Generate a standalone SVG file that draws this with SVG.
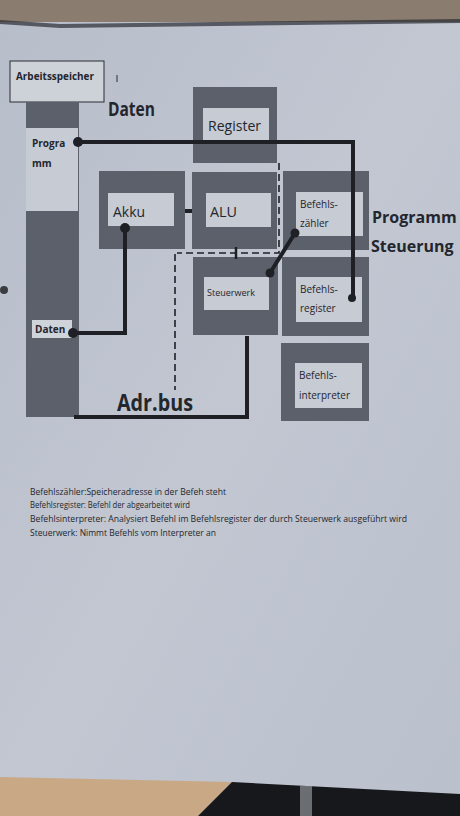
<svg xmlns="http://www.w3.org/2000/svg" width="460" height="816" viewBox="0 0 460 816">
<defs>
<linearGradient id="page" x1="0" y1="0" x2="1" y2="1">
<stop offset="0" stop-color="#b7bdc9"/>
<stop offset="0.5" stop-color="#c2c7d2"/>
<stop offset="1" stop-color="#bac0cc"/>
</linearGradient>
<style>
.outer{fill:#5b606b}
.inner{fill:#c7cbd3}
.t{font-family:"Open Sans","Liberation Sans",sans-serif;fill:#23262d}
.b{font-weight:bold}
.wire{stroke:#1e2026;stroke-width:4;fill:none;stroke-linejoin:miter}
.dash{stroke:#1e2026;stroke-width:1.6;fill:none;stroke-dasharray:7 4}
.dot{fill:#1e2026}
</style>
</defs>
<!-- photo background -->
<rect x="0" y="0" width="460" height="816" fill="url(#page)"/>
<rect x="0" y="0" width="460" height="22" fill="#8a7d6f"/>
<path d="M0,20 L60,24 L460,19 L460,23 L60,28 L0,24 Z" fill="#2b2c33" opacity="0.7"/>
<path d="M0,777 L232,782 L198,816 L0,816 Z" fill="#c9a985"/>
<path d="M232,782 L460,794 L460,816 L198,816 Z" fill="#17181b"/>
<path d="M300,786 L312,786 L312,816 L300,816 Z" fill="#8f9297" opacity="0.7"/>
<circle cx="4" cy="290" r="4" fill="#3a3c40"/>

<!-- Arbeitsspeicher -->
<g id="arbeitsspeicher">
<rect x="10" y="61" width="94" height="41" fill="#cdd1d8" stroke="#2a2c31" stroke-width="1"/>
<text class="t b" x="16" y="80" font-size="11" textLength="78" lengthAdjust="spacingAndGlyphs">Arbeitsspeicher</text>
<line x1="117" y1="75" x2="117" y2="82" stroke="#2a2c31" stroke-width="1"/>
</g>
<g id="speicher">
<rect class="outer" x="26" y="102" width="53" height="315"/>
<rect class="inner" x="26" y="128" width="52" height="83"/>
<text class="t b" x="32" y="147" font-size="10">Progra</text>
<text class="t b" x="32" y="167" font-size="10">mm</text>
<rect x="32" y="320" width="40" height="18" fill="#cfd3da"/>
<text class="t b" x="35" y="333" font-size="10">Daten</text>
</g>
<text class="t b" x="108" y="116" font-size="19" textLength="47" lengthAdjust="spacingAndGlyphs">Daten</text>

<g id="register">
<rect class="outer" x="193" y="87" width="84" height="76"/>
<rect class="inner" x="203" y="108" width="66" height="32"/>
<text class="t" x="208" y="131" font-size="15" textLength="53" lengthAdjust="spacingAndGlyphs">Register</text>
</g>
<g id="akku">
<rect class="outer" x="99" y="171" width="86" height="78"/>
<rect class="inner" x="108" y="193" width="66" height="33"/>
<text class="t" x="113" y="217" font-size="15" textLength="32" lengthAdjust="spacingAndGlyphs">Akku</text>
</g>
<g id="alu">
<rect class="outer" x="192" y="172" width="85" height="77"/>
<rect class="inner" x="206" y="193" width="65" height="34"/>
<text class="t" x="210" y="217" font-size="15" textLength="27" lengthAdjust="spacingAndGlyphs">ALU</text>
</g>
<g id="befehlszaehler">
<rect class="outer" x="283" y="171" width="86" height="79"/>
<rect class="inner" x="296" y="192" width="67" height="44"/>
<text class="t" x="300" y="208" font-size="10">Befehls-</text>
<text class="t" x="300" y="227" font-size="10">zähler</text>
</g>
<g id="steuerwerk">
<rect class="outer" x="193" y="257" width="85" height="78"/>
<rect class="inner" x="204" y="277" width="65" height="33"/>
<text class="t" x="207" y="296" font-size="9">Steuerwerk</text>
</g>
<g id="befehlsregister">
<rect class="outer" x="282" y="257" width="87" height="79"/>
<rect class="inner" x="296" y="277" width="66" height="45"/>
<text class="t" x="300" y="293" font-size="10">Befehls-</text>
<text class="t" x="300" y="312" font-size="10">register</text>
</g>
<g id="befehlsinterpreter">
<rect class="outer" x="281" y="343" width="88" height="78"/>
<rect class="inner" x="295" y="363" width="67" height="45"/>
<text class="t" x="299" y="379" font-size="10">Befehls-</text>
<text class="t" x="299" y="399" font-size="10">interpreter</text>
</g>
<text class="t b" x="372" y="223" font-size="16">Programm</text>
<text class="t b" x="371" y="252" font-size="16">Steuerung</text>
<text class="t b" x="117" y="411" font-size="24" textLength="76" lengthAdjust="spacingAndGlyphs">Adr.bus</text>

<g id="connectors">
<path class="wire" d="M78,142 L353,142 L353,298"/>
<circle class="dot" cx="78" cy="142" r="5"/>
<circle class="dot" cx="352" cy="298" r="4"/>
<path class="wire" d="M125,228 L125,333 L73,333"/>
<circle class="dot" cx="125" cy="228" r="5"/>
<circle class="dot" cx="73" cy="333" r="5"/>
<line class="wire" x1="185" y1="211" x2="192" y2="211"/>
<line class="wire" x1="295" y1="233" x2="270" y2="273"/>
<circle class="dot" cx="295" cy="233" r="4.5"/>
<circle class="dot" cx="270" cy="273" r="4.5"/>
<path class="wire" d="M247,336 L247,417 L74,417"/>
<path class="dash" d="M279,163 L279,253 L177,253"/>
<line x1="236" y1="247" x2="236" y2="259" stroke="#1e2026" stroke-width="2.5"/>
<line class="dash" x1="175" y1="254" x2="175" y2="390"/>
</g>

<g id="notes">
<text class="t" x="30" y="495" font-size="9" textLength="196" lengthAdjust="spacingAndGlyphs">Befehlszähler:Speicheradresse in der Befeh steht</text>
<text class="t" x="30" y="508" font-size="9" textLength="160" lengthAdjust="spacingAndGlyphs">Befehlsregister: Befehl der abgearbeitet wird</text>
<text class="t" x="30" y="522" font-size="9" textLength="377" lengthAdjust="spacingAndGlyphs">Befehlsinterpreter: Analysiert Befehl im Befehlsregister der durch Steuerwerk ausgeführt wird</text>
<text class="t" x="30" y="536" font-size="9" textLength="186" lengthAdjust="spacingAndGlyphs">Steuerwerk: Nimmt Befehls vom Interpreter an</text>
</g>
</svg>
